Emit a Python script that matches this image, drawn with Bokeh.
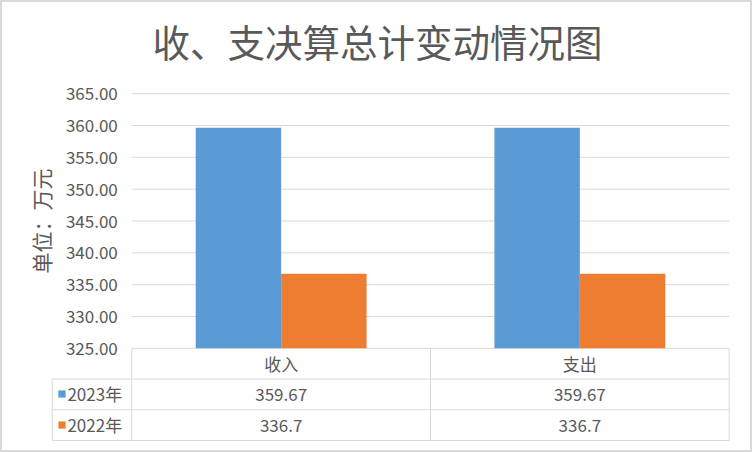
import numpy as np
from bokeh.plotting import figure
from bokeh.models import (Range1d, LinearAxis, FixedTicker, PrintfTickFormatter,
                          Legend, LegendItem, Label)
from bokeh.core.properties import value
from bokeh.embed import file_html
from bokeh.resources import INLINE

# ---------------- data ----------------
title_text = "收、支决算总计变动情况图"
categories = ["收入", "支出"]
series_names = ["2023年", "2022年"]
values_2023 = [359.67, 359.67]
values_2022 = [336.7, 336.7]
y_ticks = [325, 330, 335, 340, 345, 350, 355, 360, 365]
y_label = "单位：万元"
colors = ["#5B9BD5", "#ED7D31"]

# ---------------- style / layout ----------------
FONT = "Noto Sans CJK SC"
TEXT = "#595959"
GRID = "#D9D9D9"

W, H = 752, 452
fl, fr, ft, fb = 20, 731, 75, 442          # frame edges (px)
x0_page, xn_page = 131.3, 728.7            # category area left/right
ymax_page, ymin_page = 91.3, 347.3         # 365 / 325 positions
tbl_bottom_page = 440.0
leg_left_page = 51.7

n = len(categories)
cat_w = (xn_page - x0_page) / n
ppu = (ymin_page - ymax_page) / (max(y_ticks) - min(y_ticks))
row_px = (tbl_bottom_page - ymin_page) / 3


def xd(px):
    return (px - x0_page) / cat_w


def yd(py):
    return min(y_ticks) + (ymin_page - py) / ppu


x_range = Range1d(xd(fl), xd(fr))
y_range = Range1d(yd(fb), yd(ft))

p = figure(width=W, height=H, x_range=x_range, y_range=y_range,
           x_axis_type=None, y_axis_type=None,
           min_border_left=fl, min_border_right=W - fr,
           min_border_top=ft, min_border_bottom=H - fb,
           toolbar_location=None, output_backend="svg",
           background_fill_color="white", border_fill_color=None)
p.outline_line_color = None
# outer chart border (the transparent border area lets it show through)
p.styles = {"background-color": "white",
            "box-shadow": "inset 0 0 0 2px #D9D9D9"}

p.title.text = title_text
p.title.text_font = FONT
p.title.text_font_size = "37.5px"
p.title.text_font_style = "normal"
p.title.text_color = TEXT
p.title.align = "left"
p.title.offset = 132
p.title.standoff = 20

# grid lines (category area only)
p.segment(x0=0, x1=n, y0=y_ticks, y1=y_ticks, line_color=GRID, line_width=1)

# bars
idx = np.arange(n)
bw = 0.286
base = min(y_ticks)
r1 = p.vbar(x=idx + 0.5 - bw / 2, top=values_2023, bottom=base, width=bw,
            fill_color=colors[0], line_color=None)
r2 = p.vbar(x=idx + 0.5 + bw / 2, top=values_2022, bottom=base, width=bw,
            fill_color=colors[1], line_color=None)

# y axis
yaxis = LinearAxis(ticker=FixedTicker(ticks=y_ticks),
                   formatter=PrintfTickFormatter(format="%.2f"),
                   fixed_location=0, bounds=(min(y_ticks), max(y_ticks)))
yaxis.axis_line_color = None
yaxis.major_tick_line_color = None
yaxis.minor_tick_line_color = None
yaxis.major_tick_out = 0
yaxis.major_tick_in = 0
yaxis.major_label_standoff = 14
yaxis.major_label_text_font = FONT
yaxis.major_label_text_font_size = "17px"
yaxis.major_label_text_color = TEXT
p.add_layout(yaxis, "left")

# axis title (rotated)
p.add_layout(Label(x=xd(40), y=(min(y_ticks) + max(y_ticks)) / 2, text=y_label,
                   angle=np.pi / 2, text_align="center", text_baseline="middle",
                   text_font=FONT, text_font_size="21px", text_color=TEXT))

# data table
tbl_start = -(fb - tbl_bottom_page) / row_px
tbl_end = tbl_start + (fb - ft) / row_px
p.extra_y_ranges = {"tbl": Range1d(tbl_start, tbl_end)}
xl = xd(leg_left_page)

xs = [[xl, n], [xl, n], [xl, n], [xl, xl]] + [[i, i] for i in range(n + 1)]
ys = [[2, 2], [1, 1], [0, 0], [0, 2]] + [[0, 3] for _ in range(n + 1)]
p.multi_line(xs=xs, ys=ys, y_range_name="tbl", line_color=GRID, line_width=1)

common = dict(y_range_name="tbl", text_font=value(FONT), text_font_size="17px",
              text_color=TEXT, text_align="center", text_baseline="middle")
p.text(x=idx + 0.5, y=[2.5] * n, text=categories, **common)
p.text(x=idx + 0.5, y=[1.5] * n, text=[f"{v:g}" for v in values_2023], **common)
p.text(x=idx + 0.5, y=[0.5] * n, text=[f"{v:g}" for v in values_2022], **common)

# legend keys in the table's first column
legend = Legend(items=[LegendItem(label=series_names[0], renderers=[r1]),
                       LegendItem(label=series_names[1], renderers=[r2])],
                location=(57.4 - fl, 4.2), orientation="vertical",
                padding=0, margin=0, spacing=5,
                glyph_width=9, glyph_height=9, label_height=26,
                label_standoff=1, border_line_color=None,
                background_fill_alpha=0,
                label_text_font=FONT, label_text_font_size="17px",
                label_text_color=TEXT)
p.add_layout(legend)

open("out.html", "w").write(file_html(p, INLINE))
